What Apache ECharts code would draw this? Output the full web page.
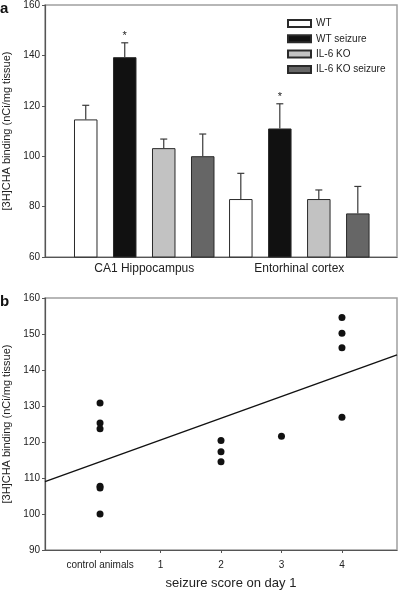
<!DOCTYPE html>
<html>
<head>
<meta charset="utf-8">
<script src="https://cdn.jsdelivr.net/npm/echarts@6/dist/echarts.min.js"></script>
<style>
  html, body { margin: 0; padding: 0; background: #fff; }
  #chart { width: 399px; height: 590px; }
</style>
</head>
<body>
<div id="chart"></div>
<script>
// panel a: regions and group means / error (upper whisker)
const regions = ['CA1 Hippocampus', 'Entorhinal cortex'];
const groupNames = ['WT', 'WT seizure', 'IL-6 KO', 'IL-6 KO seizure'];
const wtMean = [114.6, 83.0];
const wtSeizureMean = [139.3, 111.0];
const koMean = [103.2, 83.0];
const koSeizureMean = [100.0, 77.3];
const wtErr = [5.6, 10.2];
const wtSeizureErr = [5.7, 9.8];
const koErr = [3.6, 3.6];
const koSeizureErr = [8.8, 10.7];
const wtSeizureSig = ['*', '*'];

// panel b: seizure score vs binding
const scoreTicks = [0, 1, 2, 3, 4];
const scoreLabels = ['control animals', '1', '2', '3', '4'];
const scoreX = [0, 0, 0, 0, 0, 0, 2, 2, 2, 3, 4, 4, 4, 4];
const bindingY = [130.8, 125.3, 123.7, 107.7, 107.2, 100.0, 120.4, 117.3, 114.5, 121.6, 154.6, 150.2, 146.2, 126.9];
const fitX = [-0.91, 4.91];
const fitY = [109.0, 144.2];

const chart = echarts.init(document.getElementById('chart'));

const FONT = 'Liberation Sans, Arial, sans-serif';
const barW = 23.5;
const barGapPx = 15.5;
const groupColors = ['#ffffff', '#111111', '#c2c2c2', '#666666'];
const means = [wtMean, wtSeizureMean, koMean, koSeizureMean];
const errs = [wtErr, wtSeizureErr, koErr, koSeizureErr];
const sigs = [[], wtSeizureSig, [], []];

const barSeries = groupNames.map((name, i) => ({
  name: name,
  type: 'bar',
  xAxisIndex: 0,
  yAxisIndex: 0,
  barWidth: barW,
  barGap: (barGapPx / barW * 100) + '%',
  itemStyle: { color: groupColors[i], borderColor: '#2a2a2a', borderWidth: 1 },
  data: means[i].map((v, k) => [k, v]),
  z: 2
}));

const errData = [];
groupNames.forEach((name, i) => {
  means[i].forEach((v, k) => {
    errData.push([k, v, v + errs[i][k], i, sigs[i][k] || '']);
  });
});

const errSeries = {
  type: 'custom',
  xAxisIndex: 0,
  yAxisIndex: 0,
  z: 3,
  silent: true,
  data: errData,
  renderItem: (params, api) => {
    const total = 4 * barW + 3 * barGapPx;
    const off = -total / 2 + barW / 2 + api.value(3) * (barW + barGapPx);
    const base = api.coord([api.value(0), api.value(1)]);
    const top = api.coord([api.value(0), api.value(2)]);
    const x = base[0] + off;
    const children = [
      { type: 'line', shape: { x1: x, y1: base[1], x2: x, y2: top[1] }, style: { stroke: '#3a3a3a', lineWidth: 1.2 } },
      { type: 'line', shape: { x1: x - 3.5, y1: top[1], x2: x + 3.5, y2: top[1] }, style: { stroke: '#3a3a3a', lineWidth: 1.2 } }
    ];
    const star = api.value(4);
    if (star) {
      children.push({ type: 'text', style: { text: star, x: x, y: top[1] - 1, textAlign: 'center', textVerticalAlign: 'bottom', fontSize: 11, fontFamily: FONT, fill: '#222' } });
    }
    return { type: 'group', children: children };
  }
};

const axisLine = { show: true, onZero: false, lineStyle: { color: '#555', width: 1.2 } };

const option = {
  animation: false,
  backgroundColor: '#fff',
  textStyle: { fontFamily: FONT },
  grid: [
    { left: 45, top: 5, width: 352, height: 252, show: true, borderColor: '#a0a0a0', borderWidth: 1.5, backgroundColor: 'transparent', outerBoundsMode: 'none', containLabel: false },
    { left: 45, top: 298, width: 352, height: 252, show: true, borderColor: '#a0a0a0', borderWidth: 1.5, backgroundColor: 'transparent', outerBoundsMode: 'none', containLabel: false }
  ],
  legend: {
    data: groupNames,
    orient: 'vertical',
    left: 287,
    top: 18.5,
    padding: 0,
    icon: 'rect',
    itemWidth: 23,
    itemHeight: 7,
    itemGap: 5.3,
    textStyle: { fontSize: 10, color: '#222', fontFamily: FONT, padding: [0, 0, 0, 0] },
    selectedMode: false
  },
  xAxis: [
    {
      type: 'value', gridIndex: 0, min: -0.64, max: 1.63,
      axisLine: axisLine, axisTick: { show: false }, splitLine: { show: false },
      axisLabel: { customValues: [0, 1], formatter: v => regions[Math.round(v)], fontSize: 12, color: '#222', margin: 6 }
    },
    {
      type: 'value', gridIndex: 1, min: -0.91, max: 4.91,
      axisLine: axisLine, splitLine: { show: false },
      axisTick: { show: true, customValues: scoreTicks, length: 3, lineStyle: { color: '#555' } },
      axisLabel: { customValues: scoreTicks, formatter: v => scoreLabels[Math.round(v)], fontSize: 10, color: '#222', margin: 10 }
    }
  ],
  yAxis: [
    {
      type: 'value', gridIndex: 0, min: 60, max: 160, interval: 20,
      axisLine: axisLine, splitLine: { show: false },
      axisTick: { show: true, length: 3, lineStyle: { color: '#555' } },
      axisLabel: { fontSize: 10, color: '#222', margin: 5 },
      name: '[3H]CHA binding (nCi/mg tissue)', nameLocation: 'middle', nameGap: 31,
      nameTextStyle: { fontSize: 11, color: '#222' }
    },
    {
      type: 'value', gridIndex: 1, min: 90, max: 160, interval: 10,
      axisLine: axisLine, splitLine: { show: false },
      axisTick: { show: true, length: 3, lineStyle: { color: '#555' } },
      axisLabel: { fontSize: 10, color: '#222', margin: 5 },
      name: '[3H]CHA binding (nCi/mg tissue)', nameLocation: 'middle', nameGap: 31,
      nameTextStyle: { fontSize: 11, color: '#222' }
    }
  ],
  graphic: [
    { type: 'text', left: 0, top: 1, style: { text: 'a', fontSize: 15, fontWeight: 'bold', fontFamily: FONT, fill: '#111' } },
    { type: 'text', left: 0, top: 294, style: { text: 'b', fontSize: 15, fontWeight: 'bold', fontFamily: FONT, fill: '#111' } },
    { type: 'text', x: 231, y: 583, style: { text: 'seizure score on day 1', fontSize: 13, fontFamily: FONT, fill: '#222', textAlign: 'center', textVerticalAlign: 'middle' } }
  ],
  series: barSeries.concat([
    errSeries,
    {
      type: 'line',
      xAxisIndex: 1, yAxisIndex: 1,
      data: fitX.map((x, i) => [x, fitY[i]]),
      showSymbol: false, symbol: 'none',
      lineStyle: { color: '#111', width: 1.4 },
      silent: true
    },
    {
      type: 'scatter',
      xAxisIndex: 1, yAxisIndex: 1,
      data: scoreX.map((x, i) => [x, bindingY[i]]),
      symbolSize: 7,
      itemStyle: { color: '#111', opacity: 1 },
      z: 4
    }
  ])
};

chart.setOption(option);
</script>
</body>
</html>
